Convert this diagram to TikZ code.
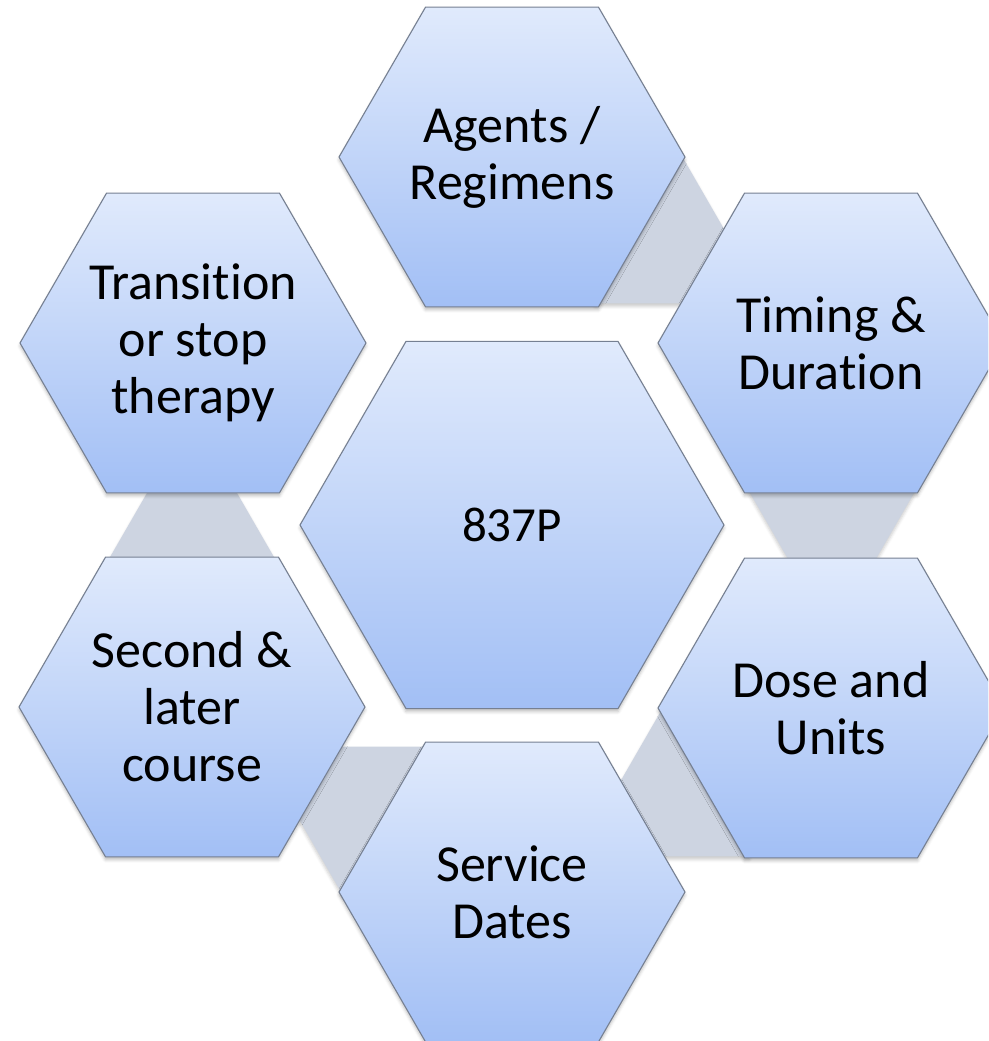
\documentclass[tikz,border=0pt]{standalone}
\usepackage{fontspec}
\setmainfont{Carlito}[RawFeature={-liga;-clig;-calt;-dlig}]
\usetikzlibrary{shapes.geometric,shadows.blur}
\definecolor{hextop}{RGB}{224,234,252}
\definecolor{hexbot}{RGB}{162,191,245}
\definecolor{hexline}{RGB}{118,128,146}
\definecolor{linkgray}{RGB}{205,212,225}

\begin{document}
\begin{tikzpicture}[x=1pt,y=-1pt,
  hexa/.style={regular polygon,regular polygon sides=6,minimum size=346pt,inner sep=0pt,
    draw=hexline,line width=1.1pt,top color=hextop,bottom color=hexbot,align=center,
    font=\fontsize{52}{57}\selectfont,
    blur shadow={shadow xshift=0pt,shadow yshift=-3pt,shadow blur radius=3pt,shadow opacity=25}},
  link/.style={regular polygon,regular polygon sides=6,minimum size=172pt,inner sep=0pt,
    fill=linkgray,
    blur shadow={shadow xshift=0pt,shadow yshift=-3pt,shadow blur radius=3pt,shadow opacity=20}}]
\useasboundingbox (0,0) rectangle (988,1041);
\clip (0,0) rectangle (988,1041);
% gray links behind the ring
\node[link] (l1) at (638,229) {};
\node[link] (l2) at (832,486) {};
\node[link] (l3) at (706,782) {};
\node[link] (l4) at (386,821) {};
\node[link] (l5) at (192,564) {};
% ring
\node[hexa] (agents) at (512,157) {Agents /\\Regimens};
\node[hexa] (timing) at (831,343) {Timing \&\\Duration};
\node[hexa] (dose)   at (831,708) {Dose and\\Units};
\node[hexa] (dates)  at (512,892) {Service\\Dates};
\node[hexa] (later)  at (192,707) {Second \&\\later\\course};
\node[hexa] (stop)   at (193,343) {Transition\\or stop\\therapy};
% centre
\node[hexa,minimum size=424pt,font=\fontsize{49}{57}\selectfont] (c) at (512,525) {837P};
\end{tikzpicture}
\end{document}
